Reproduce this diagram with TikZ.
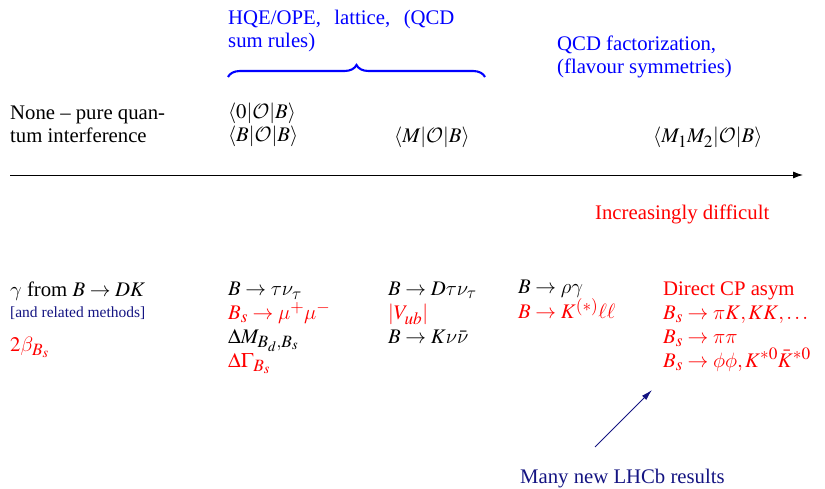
\documentclass[tikz,border=0pt]{standalone}
\usepackage{mathptmx}
\usepackage[no-math]{fontspec}
\setmainfont{Liberation Serif}
\DeclareMathSizes{20.74}{20.74}{17.28}{14.4}
\DeclareMathAlphabet{\mathcal}{OMS}{cmsy}{m}{n}
\DeclareSymbolFont{cmlet}{OML}{cmm}{m}{it}
\DeclareSymbolFont{cmsym}{OMS}{cmsy}{m}{n}
\DeclareMathSymbol{\beta}{\mathord}{cmlet}{"0C}
\DeclareMathSymbol{\gamma}{\mathord}{cmlet}{"0D}
\DeclareMathSymbol{\mu}{\mathord}{cmlet}{"16}
\DeclareMathSymbol{\nu}{\mathord}{cmlet}{"17}
\DeclareMathSymbol{\pi}{\mathord}{cmlet}{"19}
\DeclareMathSymbol{\rho}{\mathord}{cmlet}{"1A}
\DeclareMathSymbol{\tau}{\mathord}{cmlet}{"1C}
\DeclareMathSymbol{\phi}{\mathord}{cmlet}{"1E}
\DeclareMathSymbol{\ell}{\mathord}{cmlet}{"60}
\DeclareMathSymbol{\to}{\mathrel}{cmsym}{"21}
\usetikzlibrary{arrows.meta,decorations.pathreplacing}
\definecolor{cblue}{RGB}{0,0,255}
\definecolor{cred}{RGB}{255,0,0}
\definecolor{cnavy}{RGB}{20,20,130}
\newcommand{\redtxt}[1]{\textcolor{cred}{#1}}
\tikzset{
  txt/.style={anchor=base west, inner sep=0pt, align=left,
              font=\fontsize{20.74}{23.7}\selectfont},
  tblue/.style={txt, text=cblue},
  tred/.style={txt, text=cred},
  tnavy/.style={txt, text=cnavy},
  tnote/.style={tnavy, font=\fontsize{15.5}{18}\selectfont},
  hqebrace/.style={decorate, decoration={brace, amplitude=12pt},
                   draw=cblue, line width=2.1pt},
  axarrow/.style={-{Latex[length=10pt,width=7pt]}, line width=0.9pt},
  lhcbarrow/.style={-{Latex[length=11pt,width=6pt]}, line width=0.9pt, draw=cnavy},
}
\begin{document}
\begin{tikzpicture}[x=1pt, y=-1pt]
  \useasboundingbox (0,0) rectangle (825,489);
  \node[tblue] (hqe) at (228,48) {HQE/OPE,\hspace{0.65em}lattice,\hspace{0.65em}(QCD\\sum rules)};
  \node[tblue] (qcdf) at (557,74) {QCD factorization,\\(flavour symmetries)};
  \coordinate (brL) at (228,77);
  \coordinate (brR) at (485,77);
  \draw[hqebrace] (brL) -- (brR);
  \node[txt] (none) at (10,143) {None -- pure quan-\\tum interference};
  \node[txt] (mel0) at (228,142) {$\langle 0|\mathcal{O}|B\rangle$\\$\langle B|\mathcal{O}|B\rangle$};
  \node[txt] (mel1) at (394,143) {$\langle M|\mathcal{O}|B\rangle$};
  \node[txt] (mel2) at (653,143) {$\langle M_1M_2|\mathcal{O}|B\rangle$};
  \coordinate (axL) at (10,175);
  \coordinate (axR) at (803,175);
  \draw[axarrow] (axL) -- (axR);
  \node[tred] (diff) at (595,220) {Increasingly difficult};
  \node[txt] (gam) at (10,296) {$\gamma$ from $B\to DK$};
  \node[tnote] (rel) at (10,317) {[and related methods]};
  \node[tred] (beta) at (10,351) {$2\beta_{B_s}$};
  \node[txt] (colA) at (228,367) {$B\to\tau\nu_\tau$\\\redtxt{$B_s\to\mu^+\mu^-$}\\$\Delta M_{B_d,B_s}$\\\redtxt{$\Delta\Gamma_{B_s}$}};
  \node[txt] (colB) at (388,343) {$B\to D\tau\nu_\tau$\\\redtxt{$|V_{ub}|$}\\$B\to K\nu\bar\nu$};
  \node[txt] (colC) at (518,319) {$B\to\rho\gamma$\\\redtxt{$B\to K^{(*)}\ell\ell$}};
  \node[tred] (colD) at (663,367) {Direct CP asym\\$B_s\to\pi K, KK,\ldots$\\$B_s\to\pi\pi$\\$B_s\to\phi\phi, K^{*0}\bar K^{*0}$};
  \node[tnavy] (lhcb) at (520,483) {Many new LHCb results};
  \coordinate (lhcbT) at (595,447);
  \coordinate (lhcbH) at (652,390);
  \draw[lhcbarrow] (lhcbT) -- (lhcbH);
\end{tikzpicture}
\end{document}
